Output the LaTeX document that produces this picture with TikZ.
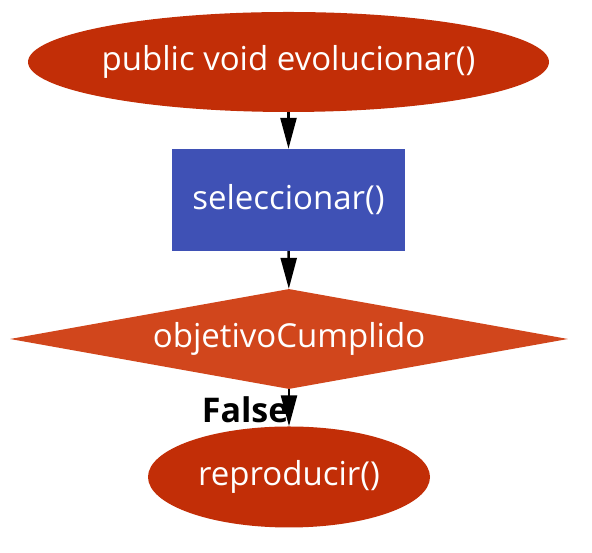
\documentclass[tikz,border=0pt]{standalone}
\usepackage{fontspec}
\setmainfont{Open Sans}
\usepackage{tikz}
\usetikzlibrary{shapes,arrows.meta}
\definecolor{nodered}{HTML}{C22E07}
\definecolor{nodeblue}{HTML}{3F51B5}
\definecolor{nodeorange}{HTML}{D1461C}

\begin{document}
\begin{tikzpicture}[x=1pt,y=1pt]
            \tikzstyle{method}=[ellipse, fill=nodered, text=white, inner sep=0pt, font=\fontsize{33}{38}\selectfont]
            \tikzstyle{call}=[rectangle, fill=nodeblue, text=white, inner sep=0pt, font=\fontsize{33}{38}\selectfont]
            \tikzstyle{cond}=[diamond, aspect=5.58, fill=nodeorange, text=white, inner sep=0pt, font=\fontsize{33}{38}\selectfont]
            \tikzstyle{connect}=[line width=2.5pt, -{Triangle[width=16pt,length=31pt]}]
            \useasboundingbox (0,0) rectangle (592,553);
            \node[method, inner xsep=-3pt, minimum width=521pt, minimum height=100pt] (evol) at (288.5,491){public void evolucionar()};
            \node[call, minimum width=233pt, minimum height=102pt] (sel) at (288.5,353){seleccionar()};
            \node[cond, minimum width=558pt, minimum height=100pt] (obj) at (289,214){objetivoCumplido};
            \node[method, minimum width=282pt, minimum height=101pt] (rep) at (289,76){reproducir()};

            \path (evol) edge [connect] (sel);
            \path (sel) edge [connect] (obj);
            \path (obj) edge [connect] node[left, xshift=4pt, yshift=-2pt, font=\bfseries\fontsize{34}{40}\selectfont] {False} (rep);
        \end{tikzpicture}
\end{document}
